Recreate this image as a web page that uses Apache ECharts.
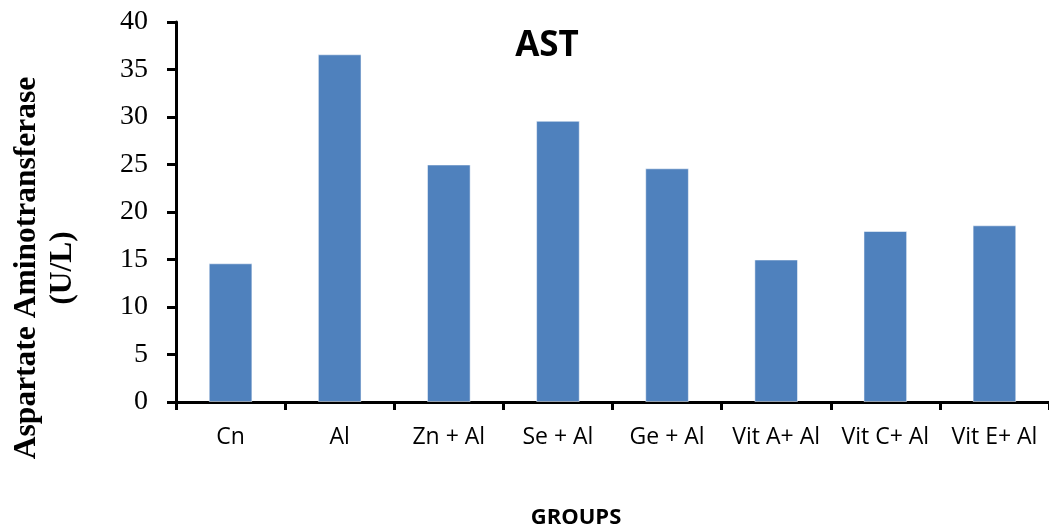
<!DOCTYPE html>
<html>
<head>
<meta charset="utf-8">
<script src="https://cdn.jsdelivr.net/npm/echarts@6/dist/echarts.min.js"></script>
<style>
  html, body { margin: 0; padding: 0; background: #fff; }
  #chart { width: 1049px; height: 530px; }
</style>
</head>
<body>
<div id="chart"></div>
<script>
// AST levels per treatment group (U/L)
const groups = ['Cn', 'Al', 'Zn + Al', 'Se + Al', 'Ge + Al', 'Vit A+ Al', 'Vit C+ Al', 'Vit E+ Al'];
const astValues = [14.6, 36.6, 25.0, 29.6, 24.6, 15.0, 18.0, 18.6];
const yTicks = [0, 5, 10, 15, 20, 25, 30, 35, 40];

const chart = echarts.init(document.getElementById('chart'), null, { renderer: 'canvas' });

chart.setOption({
  animation: false,
  backgroundColor: '#ffffff',
  grid: { left: 176, right: -8, top: 22, bottom: 128 },
  xAxis: {
    type: 'category',
    data: groups,
    axisLine: { lineStyle: { color: '#000', width: 3 } },
    axisTick: { show: true, interval: 0, length: 8, lineStyle: { color: '#000', width: 3 } },
    axisLabel: { interval: 0, hideOverlap: false, color: '#000', fontFamily: 'Open Sans', fontSize: 23, margin: 24 }
  },
  yAxis: {
    type: 'value',
    min: yTicks[0],
    max: yTicks[yTicks.length - 1],
    interval: yTicks[1] - yTicks[0],
    splitLine: { show: false },
    axisLine: { show: true, lineStyle: { color: '#000', width: 3 } },
    axisTick: { show: true, length: 9, lineStyle: { color: '#000', width: 3 } },
    axisLabel: { color: '#000', fontFamily: 'Liberation Serif', fontSize: 28, margin: 28 }
  },
  series: [{
    type: 'bar',
    data: astValues,
    barWidth: '40%',
    itemStyle: { color: '#4F81BD', borderColor: 'rgba(255,255,255,0.5)', borderWidth: 1 }
  }],
  graphic: [
    {
      type: 'text',
      x: 547, y: 46,
      style: {
        text: 'AST', fill: '#000', font: 'bold 35px "Open Sans"',
        align: 'center', verticalAlign: 'middle'
      }
    },
    {
      type: 'text',
      x: 576, y: 518,
      style: {
        text: 'GROUPS', fill: '#000', font: 'bold 22px "Open Sans"',
        align: 'center', verticalAlign: 'middle'
      }
    },
    {
      type: 'text',
      x: 45, y: 268,
      rotation: Math.PI / 2,
      style: {
        text: 'Aspartate Aminotransferase\n(U/L)', fill: '#000',
        font: 'bold 31.5px "Liberation Serif"', lineHeight: 36,
        align: 'center', verticalAlign: 'middle'
      }
    }
  ]
});
</script>
</body>
</html>
